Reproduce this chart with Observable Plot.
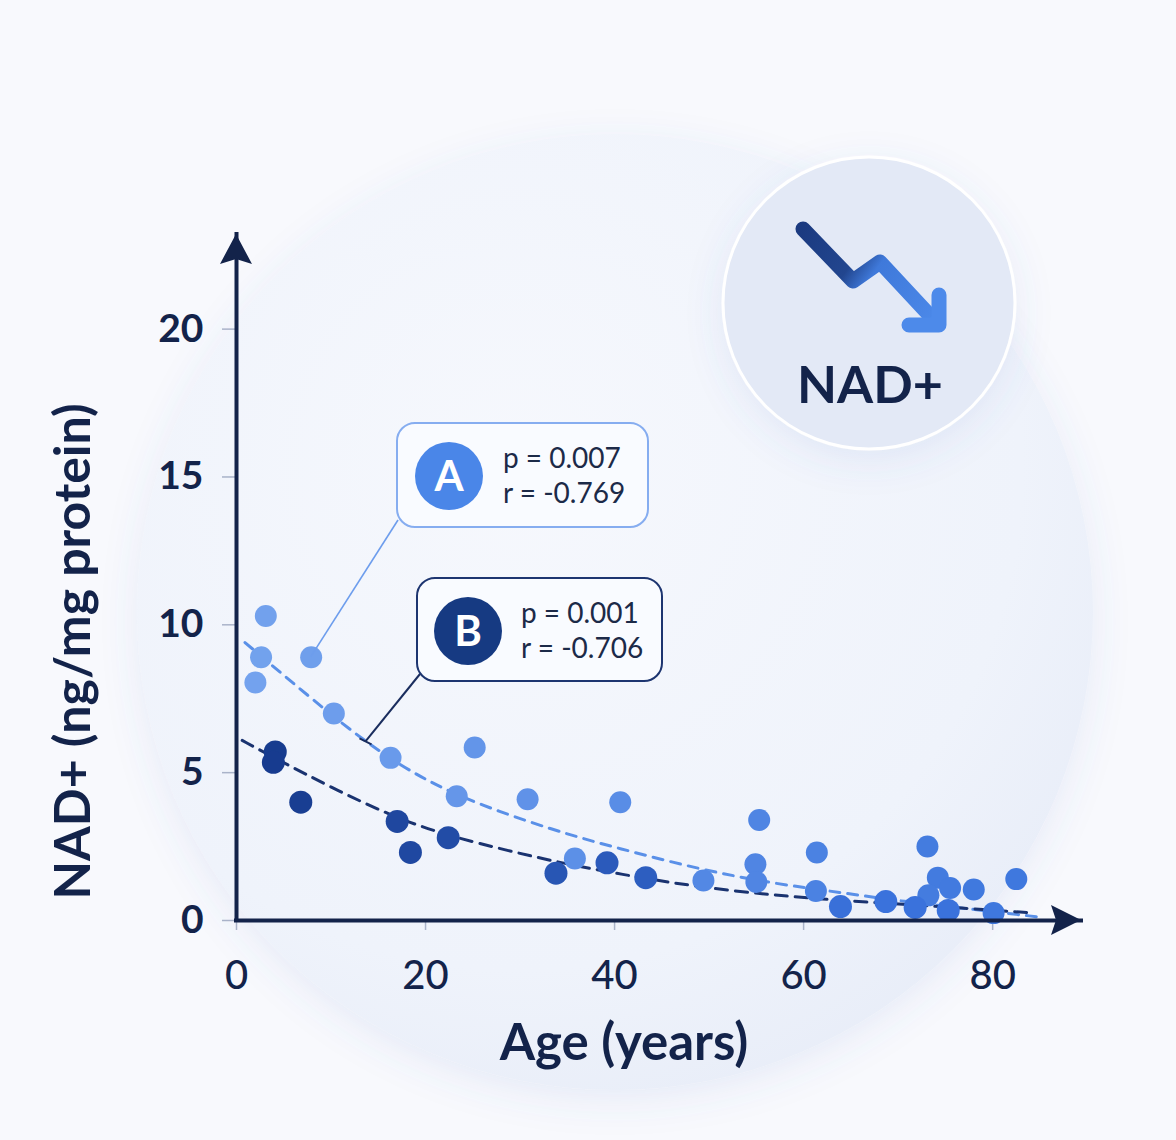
<!DOCTYPE html>
<html><head><meta charset="utf-8">
<script src="https://cdn.jsdelivr.net/npm/d3@7"></script>
<script src="https://cdn.jsdelivr.net/npm/@observablehq/plot@0.6"></script>
<style>
html,body{margin:0;padding:0;background:#f8f9fd;}
#wrap{position:relative;width:1176px;height:1140px;overflow:hidden;font-family:Lato,"Noto Sans",sans-serif;}
#bg,#chart{position:absolute;left:0;top:0;}
#chart svg{overflow:visible;}
#chart g[aria-label="y-axis tick label"] text{font-weight:700;}
#chart g[aria-label="x-axis tick label"] text{font-weight:500;}
</style></head>
<body><div id="wrap">
<svg id="bg" width="1176" height="1140">
  <defs>
    <radialGradient id="bigGrad" cx="0.4" cy="0.35" r="0.7">
      <stop offset="0" stop-color="#f6f8fd"/>
      <stop offset="0.75" stop-color="#eff3fb"/>
      <stop offset="1" stop-color="#e8edf8"/>
    </radialGradient>
    <filter id="soft" x="-20%" y="-20%" width="140%" height="140%">
      <feDropShadow dx="0" dy="10" stdDeviation="18" flood-color="#4a6cc0" flood-opacity="0.10"/>
    </filter>
    <linearGradient id="arrowGrad" gradientUnits="userSpaceOnUse" x1="802" y1="228" x2="940" y2="326">
      <stop offset="0" stop-color="#1b3a80"/>
      <stop offset="0.36" stop-color="#22468f"/>
      <stop offset="0.5" stop-color="#3f79da"/>
      <stop offset="1" stop-color="#4d8aea"/>
    </linearGradient>
  </defs>
  <circle cx="615" cy="612" r="478" fill="url(#bigGrad)" filter="url(#soft)"/>
  <circle cx="869" cy="303" r="146" fill="#e3e9f6" stroke="#ffffff" stroke-width="3" filter="url(#soft)"/>
  <path d="M803,229 L853,281 L880,262 L934,320" fill="none" stroke="url(#arrowGrad)" stroke-width="15" stroke-linecap="round" stroke-linejoin="round"/>
  <path d="M939,295 L939,325 L909,325" fill="none" stroke="#4d8aea" stroke-width="15" stroke-linecap="round" stroke-linejoin="round"/>
  <text id="badge" x="870" y="403" text-anchor="middle" font-family="Lato, sans-serif" font-weight="700" font-size="52" fill="#13234a"></text>
</svg>
<div id="chart"></div>
</div>
<script>
// ---- data ----
const ageA = [3.1, 2.6, 2.0, 7.9, 10.3, 16.3, 25.2, 23.3, 30.8, 40.6, 55.3, 54.9, 55.0, 61.4, 73.1, 74.2, 75.5, 78.0, 82.5, 73.2, 61.3, 35.8, 49.4, 80.1];
const nadA = [10.3, 8.9, 8.05, 8.9, 7.0, 5.5, 5.85, 4.2, 4.1, 4.0, 3.4, 1.9, 1.3, 2.3, 2.5, 1.45, 1.1, 1.05, 1.4, 0.85, 1.0, 2.1, 1.35, 0.25];
const ageB = [4.1, 3.9, 6.8, 17.0, 18.4, 22.4, 33.8, 39.2, 43.3, 63.9, 68.7, 71.8, 75.3];
const nadB = [5.7, 5.35, 4.0, 3.35, 2.3, 2.8, 1.6, 1.95, 1.45, 0.47, 0.64, 0.44, 0.34];
const trendAgeA = [0.9, 10.0, 16.3, 23.4, 34.0, 40.3, 49.1, 56.8, 63.9, 70.3, 79.0, 84.8];
const trendNadA = [9.4, 6.94, 5.41, 4.16, 3.0, 2.45, 1.72, 1.25, 0.95, 0.65, 0.34, 0.12];
const trendAgeB = [0.6, 3.9, 10.0, 16.3, 22.3, 34.0, 39.3, 43.8, 49.8, 56.8, 62.1, 66.8, 77.4, 84.0];
const trendNadB = [6.09, 5.52, 4.5, 3.55, 2.85, 1.96, 1.65, 1.39, 1.1, 0.86, 0.72, 0.62, 0.41, 0.26];
const xTicks = [0, 20, 40, 60, 80];
const yTicks = [0, 5, 10, 15, 20];
const xLabel = "Age (years)";
const yLabel = "NAD+ (ng/mg protein)";
const groupNames = ["A", "B"];
const pValues = ["0.007", "0.001"];
const rValues = ["-0.769", "-0.706"];
const badgeText = "NAD+";
const xMax = 89.4, yMax = 23.2;
const leaderAgeB = 13.7; // where leader B touches trend A

// ---- styles ----
const navy = "#13234a";
const colorA = d3.interpolateRgb("#74a3ee", "#3f78de");
const colorB = d3.interpolateRgb("#15388a", "#3a72dc");

document.getElementById("badge").textContent = badgeText;

const dataA = ageA.map((a, i) => ({age: a, nad: nadA[i]}));
const dataB = ageB.map((a, i) => ({age: a, nad: nadB[i]}));
const trendA = trendAgeA.map((a, i) => ({age: a, nad: trendNadA[i]}));
const trendB = trendAgeB.map((a, i) => ({age: a, nad: trendNadB[i]}));

const plot = Plot.plot({
  width: 1176, height: 1140,
  marginLeft: 236, marginRight: 95, marginTop: 234, marginBottom: 220,
  x: {domain: [0, xMax]},
  y: {domain: [0, yMax]},
  color: {type: "identity"},
  style: {background: "transparent", fontFamily: "Lato, sans-serif", color: navy, overflow: "visible"},
  marks: [
    Plot.axisX({ticks: xTicks, tickSize: 10, tickPadding: 30, fontSize: 40, stroke: "#a9b3c9", strokeWidth: 1.5, fill: navy, label: null, tickFormat: d => String(d)}),
    Plot.axisY({ticks: yTicks, tickSize: 14, tickPadding: 19, fontSize: 39, stroke: "#a9b3c9", strokeWidth: 1.5, fill: navy, label: null, tickFormat: d => String(d)}),
    Plot.line(trendA, {x: "age", y: "nad", stroke: "#5a90e8", strokeWidth: 3, strokeDasharray: "10 8", curve: "basis"}),
    Plot.line(trendB, {x: "age", y: "nad", stroke: "#1a3370", strokeWidth: 3, strokeDasharray: "12 8", curve: "basis"}),
    Plot.dot(dataA, {x: "age", y: "nad", r: 11, fill: d => colorA(Math.min(1, d.age / 80))}),
    Plot.dot(dataB, {x: "age", y: "nad", r: 11.5, fill: d => colorB(Math.min(1, d.age / 66))}),
    Plot.ruleY([0], {stroke: navy, strokeWidth: 4, strokeLinecap: "square"}),
    Plot.ruleX([0], {stroke: navy, strokeWidth: 4, strokeLinecap: "square"}),
    Plot.text([xLabel], {frameAnchor: "bottom", lineAnchor: "middle", textAnchor: "middle", dx: -35, dy: 123, fontSize: 51, fontWeight: 700, fill: navy}),
    Plot.text([yLabel], {frameAnchor: "left", lineAnchor: "middle", textAnchor: "middle", rotate: -90, dx: -163, dy: 74, fontSize: 50, fontWeight: 700, fill: navy})
  ]
});
document.getElementById("chart").appendChild(plot);

// ---- overlays positioned through the plot's scales ----
const sx = plot.scale("x"), sy = plot.scale("y");
const X = v => sx.apply(v), Y = v => sy.apply(v);
const svg = d3.select(plot);
const ov = svg.append("g");
const ox = X(0), oy = Y(0), xe = X(xMax), ye = Y(yMax);
ov.append("path").attr("d", `M${xe},${oy} L${xe - 30},${oy - 15} L${xe - 25},${oy} L${xe - 30},${oy + 15} Z`).attr("fill", navy);
ov.append("path").attr("d", `M${ox},${ye} L${ox - 16},${ye + 30} L${ox},${ye + 25} L${ox + 16},${ye + 30} Z`).attr("fill", navy);

// leader lines
const ptA = [X(ageA[3]), Y(nadA[3])];
const nadAtB = d3.scaleLinear().domain(trendAgeA).range(trendNadA)(leaderAgeB);
const ptB = [X(leaderAgeB), Y(nadAtB)];
ov.append("line").attr("x1", ptA[0]).attr("y1", ptA[1]).attr("x2", 398).attr("y2", 520).attr("stroke", "#6d9ded").attr("stroke-width", 1.6);
ov.append("line").attr("x1", ptB[0]).attr("y1", ptB[1]).attr("x2", 420).attr("y2", 674).attr("stroke", "#1a2d5e").attr("stroke-width", 2);
ov.append("line").attr("x1", ptB[0] - 6).attr("y1", ptB[1] - 3).attr("x2", ptB[0] + 6).attr("y2", ptB[1] + 3).attr("stroke", "#1a2d5e").attr("stroke-width", 2);

// callout boxes
const boxes = [
  {x: 397, y: 423, w: 251, h: 104, stroke: "#86adf0", circ: "#4a86e8", cx: 449, cy: 476, tx: 503, t1: 468, t2: 503},
  {x: 417, y: 578, w: 245, h: 103, stroke: "#1d3570", circ: "#163a82", cx: 468, cy: 631, tx: 521, t1: 623, t2: 658}
];
boxes.forEach((b, i) => {
  const g = ov.append("g");
  g.append("rect").attr("x", b.x).attr("y", b.y).attr("width", b.w).attr("height", b.h).attr("rx", 18)
    .attr("fill", "#f9fbff").attr("stroke", b.stroke).attr("stroke-width", 2);
  g.append("circle").attr("cx", b.cx).attr("cy", b.cy).attr("r", 34).attr("fill", b.circ);
  g.append("text").attr("x", b.cx).attr("y", b.cy + 15).attr("text-anchor", "middle").attr("font-size", 42)
    .attr("font-weight", 700).attr("fill", "#fff").attr("font-family", "Lato, sans-serif").text(groupNames[i]);
  g.append("text").attr("x", b.tx).attr("y", b.t1).attr("text-anchor", "start").attr("font-size", 28).attr("fill", "#1c2a48")
    .attr("font-family", "Lato, sans-serif").text(`p = ${pValues[i]}`);
  g.append("text").attr("x", b.tx).attr("y", b.t2).attr("text-anchor", "start").attr("font-size", 28).attr("fill", "#1c2a48")
    .attr("font-family", "Lato, sans-serif").text(`r = ${rValues[i]}`);
});
</script>
</body></html>
